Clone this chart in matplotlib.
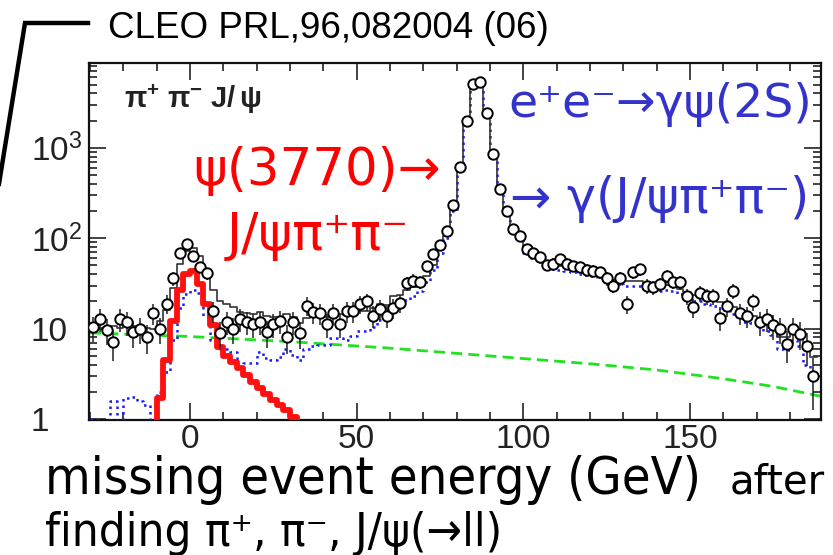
import numpy as np
import matplotlib
matplotlib.use("Agg")
import matplotlib.pyplot as plt
from matplotlib.ticker import FixedLocator, NullFormatter
from matplotlib.lines import Line2D

plt.rcParams['mathtext.fontset'] = 'custom'
plt.rcParams['mathtext.rm'] = 'Liberation Sans'
plt.rcParams['mathtext.it'] = 'Liberation Sans:italic'
plt.rcParams['mathtext.bf'] = 'Liberation Sans:bold'
plt.rcParams['mathtext.sf'] = 'Liberation Sans'

# ---- data (2 GeV bins from -30 to 188) ----
bin_edges = np.arange(-30, 190, 2)

counts = [10.4, 12.9, 9.7, 7.1, 12.9, 11.8, 9.2, 10, 8.1, 14.8,
          10, 19, 36, 68, 87, 64, 48, 41, 15.6, 9.0,
          11.9, 10, 12.9, 11.9, 11.3, 11.9, 9.2, 11.3, 12.3, 8.1,
          11.9, 9.0, 18, 15.2, 14.8, 11.2, 14.8, 11.2, 15.6, 15.6,
          18.8, 20, 14, 16.7, 13.9, 17, 19.4, 32, 34, 33,
          49, 67, 84, 121, 232, 613, 1965, 5090, 5400, 2425,
          850, 347, 201, 126, 105, 76, 69, 62, 51, 52.5,
          59, 52.5, 49, 48, 45, 44, 42, 36, 30, 36,
          18.8, 42, 45.5, 29.9, 28.7, 31.2, 38.5, 33, 32.5, 22.9,
          17.3, 24.9, 22.9, 22.9, 13.1, 17.8, 26.4, 15, 13.8, 20,
          11.8, 12.9, 10.9, 10, 6.8, 10, 8.8, 6.4, 3.0]

psi2s_bkg = [1.0, 0.5, 0.5, 1.6, 0.5, 1.7, 1.75, 1.6, 1.45, 0.5,
             2.0, 3.3, 7.5, 17, 24, 27, 25, 14, 7.5, 6.0,
             5.9, 5.5, 3.8, 4.2, 4.2, 5.5, 4.7, 4.5, 4.9, 6.0,
             5.1, 4.5, 6.0, 6.5, 6.6, 6.6, 7.8, 7.8, 7.6, 8.4,
             9.4, 9.4, 10.5, 12.4, 12.4, 17, 17.5, 21, 23, 26,
             33, 45, 68, 100, 200, 580, 1900, 5000, 5300, 2380,
             830, 330, 190, 118, 97, 68, 60, 55, 48, 46,
             45, 44, 42, 40, 39, 38, 36, 33, 31, 31,
             30, 30, 30, 28, 27, 26, 27, 26, 24, 22,
             20.5, 20, 19, 18, 17, 16, 14.5, 13, 12, 11.5,
             10.5, 9.5, 8.5, 6, 5.8, 7.5, 6.5, 4, 3]

psi3770_signal = [0, 0, 0, 0, 0, 0, 0, 0, 0, 0,
                  1.7, 4.5, 12.3, 27, 40, 43, 31, 19, 11, 6.3,
                  5.0, 4.3, 3.7, 3.1, 2.6, 2.2, 1.9, 1.63, 1.43, 1.25,
                  1.05] + [0] * 78

total_fit = [10.5, 10.3, 10.3, 10.6, 10.2, 10.6, 10.6, 10.4, 10.2, 10.0,
             12.1, 16.2, 28.1, 52.3, 72.2, 78.2, 64.1, 41, 26.5, 20.2,
             18.7, 17.6, 15.2, 14.9, 14.4, 15.2, 14.0, 13.5, 13.6, 14.5,
             13.4, 11.6, 13.0, 13.4, 13.5, 13.4, 14.5, 14.5, 14.2, 14.9,
             15.8, 15.8, 16.8, 18.6, 18.5, 23.1, 23.5, 26.9, 28.8, 31.8,
             38.7, 50.6, 73.6, 105.5, 205, 585, 1905, 5005, 5305, 2385,
             835, 335, 195, 123, 102, 72.7, 64.6, 59.6, 52.5, 50.4,
             49.4, 48.3, 46.3, 44.2, 43.1, 42.1, 40, 36.9, 34.9, 34.8,
             33.8, 33.7, 33.7, 31.6, 30.5, 29.5, 30.4, 29.3, 27.3, 25.2,
             23.6, 23.1, 22, 20.9, 19.8, 18.8, 17.2, 15.6, 14.6, 14,
             12.9, 11.9, 10.8, 8.2, 8.0, 9.6, 8.5, 5.9, 4.9]

flat_bkg_x = [-30, 0, 30, 60, 90, 120, 140, 160, 175, 189]
flat_bkg_y = [9.0, 8.2, 7.2, 6.1, 5.0, 4.1, 3.5, 2.8, 2.3, 1.8]

xticks = [0, 50, 100, 150]
yticks = [1, 10, 100, 1000]
ytick_labels = ['1', '10', r'10$^{2}$', r'10$^{3}$']

assert len(counts) == len(psi2s_bkg) == len(psi3770_signal) == len(total_fit) == len(bin_edges) - 1

# ---- figure ----
W, H = 833, 555
fig = plt.figure(figsize=(W / 100, H / 100), dpi=100)
fx = lambda px: px / W
fy = lambda py: 1 - py / H
ax = fig.add_axes([fx(89), fy(420), (821 - 89) / W, (420 - 63) / H])
ax.set_yscale('log')

edges = np.asarray(bin_edges, float)
centers = (edges[:-1] + edges[1:]) / 2


def step(vals, **kw):
    v = np.asarray(vals, float)
    v = np.where(v > 0, v, 1e-3)
    ax.step(edges, np.append(v, v[-1]), where='post', **kw)


ax.plot(flat_bkg_x, flat_bkg_y, color='#22e022', lw=2.0, ls=(0, (4, 2.2)), zorder=2)
step(psi2s_bkg, color='#1a1aff', lw=1.8, ls=(0, (1, 1.6)), zorder=3)
step(total_fit, color='#333333', lw=1.2, zorder=4)
step(psi3770_signal, color='#ff1010', lw=4.2, zorder=4.5)
c = np.asarray(counts, float)
ax.errorbar(centers, c, yerr=np.sqrt(c), fmt='o', ms=7.5, mfc='white', mec='black',
            mew=1.4, ecolor='#222222', elinewidth=1.1, capsize=0, zorder=5)

ax.set_xlim(-30.3, 189.3)
ax.set_ylim(0.98, 8650)
ax.xaxis.set_major_locator(FixedLocator(xticks))
ax.xaxis.set_minor_locator(FixedLocator(np.arange(-30, 190, 10)))
ax.yaxis.set_major_locator(FixedLocator(yticks))
minor_y = [m * d for d in [1, 10, 100, 1000] for m in range(2, 10)]
ax.yaxis.set_minor_locator(FixedLocator(minor_y))
ax.yaxis.set_minor_formatter(NullFormatter())
ax.set_yticklabels(ytick_labels)
ax.set_xticklabels([str(t) for t in xticks])
ax.tick_params(which='both', direction='in', top=True, right=True, width=1.2, colors='#222222')
ax.tick_params(which='major', length=12)
ax.tick_params(which='minor', length=6)
ax.tick_params(axis='x', which='major', pad=3, labelsize=24)
ax.tick_params(axis='y', which='major', pad=42, labelsize=24)
for lab in ax.get_yticklabels():
    lab.set_horizontalalignment('left')
    lab.set_fontfamily('Liberation Sans')
for lab in ax.get_xticklabels():
    lab.set_fontfamily('Liberation Sans')
for s in ax.spines.values():
    s.set_linewidth(1.6)
    s.set_color('#111111')

# ---- annotations ----
fig.text(fx(124), fy(108), r'$\mathbf{\pi^{+}\,\,\pi^{-}}\,\,$J/$\,\mathbf{\psi}$',
         fontsize=21, fontweight='bold', family='Liberation Sans', color='#222222', va='baseline')

fig.text(fx(108), fy(38), 'CLEO PRL,96,082004 (06)', fontsize=26.5, family='Liberation Sans',
         color='black', va='baseline')
fig.add_artist(Line2D([fx(88), fx(25), fx(-2)], [fy(23), fy(23), fy(190)],
                      color='black', lw=3.2, transform=fig.transFigure, solid_joinstyle='miter'))

red = '#ff0000'
blue = '#3333cc'
fig.text(fx(193), fy(185), 'ψ(3770)→', fontsize=37, color=red, family='DejaVu Sans', va='baseline')
fig.text(fx(227), fy(250), 'J/ψπ⁺π⁻', fontsize=37, color=red, family='DejaVu Sans', va='baseline')
fig.text(fx(508), fy(117), 'e⁺e⁻→γψ(2S)', fontsize=34, color=blue, family='DejaVu Sans', va='baseline')
fig.text(fx(510), fy(213), '→ γ(J/ψπ⁺π⁻)', fontsize=35.5, color=blue, family='DejaVu Sans', va='baseline')

fig.text(fx(45), fy(494), 'missing event energy (GeV)', fontsize=37.5, color='black',
         family='DejaVu Sans', fontstretch='condensed', va='baseline')
fig.text(fx(730), fy(493), 'after', fontsize=29, color='black',
         family='DejaVu Sans', va='baseline')
fig.text(fx(45), fy(546), 'finding π⁺, π⁻, J/ψ(→ll)', fontsize=34, color='black',
         family='DejaVu Sans', fontstretch='condensed', va='baseline')

fig.savefig('out.png', dpi=100)
